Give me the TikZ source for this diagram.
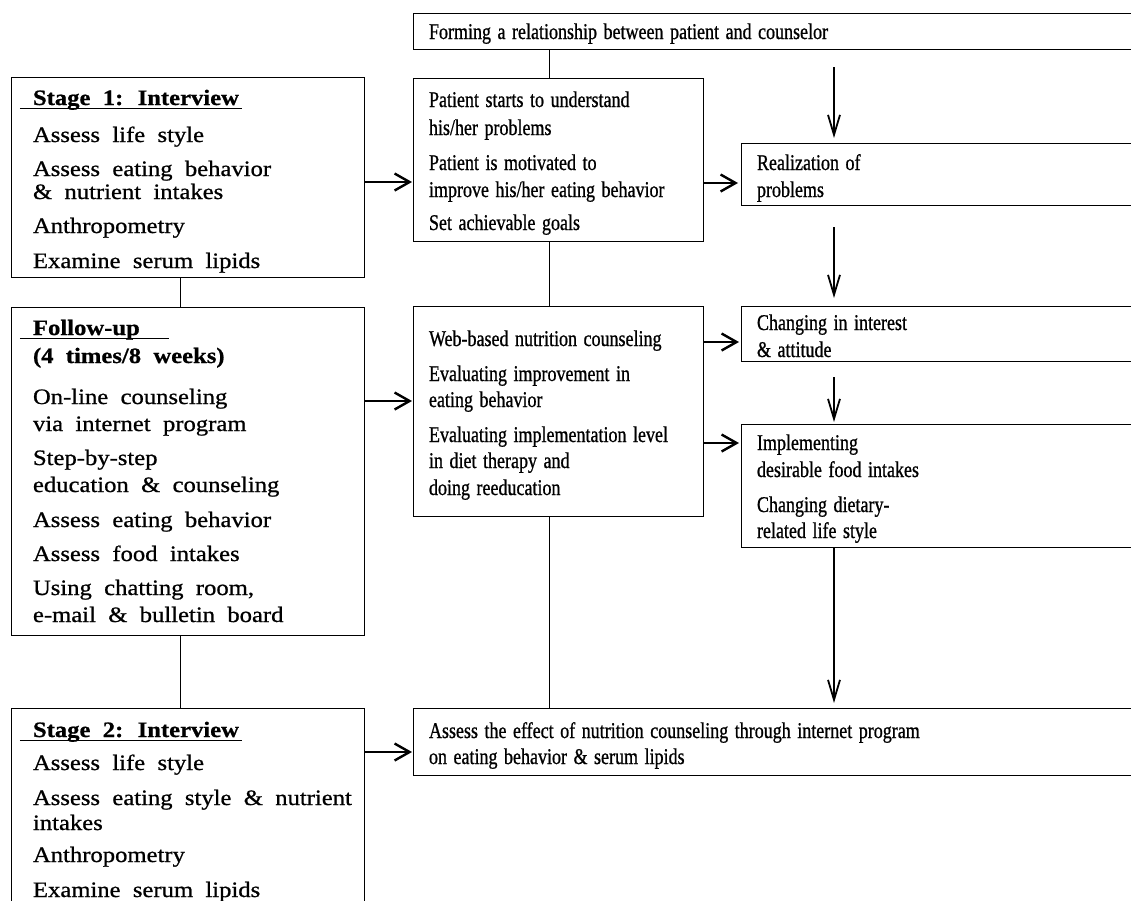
\documentclass[tikz,border=0pt]{standalone}
\usepackage{fontspec}
\setmainfont{Liberation Serif}
\newfontfamily\lfont[FakeStretch=1.12,WordSpace=2.0,FakeBold=0.8]{Liberation Serif}
\newfontfamily\mfont[FakeStretch=0.8,WordSpace=1.45,FakeBold=0.8]{Liberation Serif}
\usetikzlibrary{arrows.meta}
\newcommand\lsz{\lfont\fontsize{22}{0}\selectfont}
\newcommand\msz{\mfont\fontsize{22.5}{0}\selectfont}
\newcommand\bxt[5]{\parbox[t][#1][t]{#2}{#3\raggedright\leftskip=#4\relax\lineskiplimit=-100pt\lineskip=0pt\relax #5}}
\newcommand\fl[1]{\vspace*{\dimexpr#1-20pt\relax}\rule{0pt}{20pt}}
\newcommand\ult[2]{\makebox[0pt][l]{\hspace{-13pt}\rule[-3.5pt]{#1}{0.9pt}}#2}
\tikzset{
  bx/.style={draw, line width=1pt, anchor=north west, inner sep=0pt, outer sep=0pt},
  harr/.style={line width=2.4pt, -{Straight Barb[length=15pt,width=17pt]}},
  varr/.style={line width=1.8pt, -{Straight Barb[length=20pt,width=12pt]}},
  conn/.style={line width=1pt}
}
\begin{document}
\begin{tikzpicture}[x=1pt,y=-1pt]
\fill[white] (0,0) rectangle (1131,900);
\useasboundingbox (0,0) rectangle (1131,900);

% left column
\node[bx] (s1) at (11,77) {\bxt{200pt}{353pt}{\lsz}{22pt}{\fl{28pt}{\bfseries\ult{222pt}{Stage 1: Interview}}\\[37pt]Assess life style\\[34pt]Assess eating behavior\\[23pt]\& nutrient intakes\\[34pt]Anthropometry\\[35pt]Examine serum lipids}};
\node[bx] (fu) at (11,307) {\bxt{328pt}{353pt}{\lsz}{22pt}{\fl{28pt}{\bfseries\ult{149pt}{Follow-up}}\\[28pt]{\bfseries(4 times/8 weeks)}\\[41pt]On-line counseling\\[27pt]via internet program\\[34pt]Step-by-step\\[27pt]education \& counseling\\[35pt]Assess eating behavior\\[34pt]Assess food intakes\\[34pt]Using chatting room,\\[27pt]e-mail \& bulletin board}};
\node[bx] (s2) at (11,708) {\bxt{200pt}{353pt}{\lsz}{22pt}{\fl{29pt}{\bfseries\ult{222pt}{Stage 2: Interview}}\\[33pt]Assess life style\\[35pt]Assess eating style \& nutrient\\[25pt]intakes\\[32pt]Anthropometry\\[35pt]Examine serum lipids}};

% middle column
\node[bx] (form) at (413,13) {\bxt{36pt}{727pt}{\msz}{16pt}{\fl{26pt}Forming a relationship between patient and counselor}};
\node[bx] (pat) at (413,78) {\bxt{163pt}{290pt}{\msz}{16pt}{\fl{29pt}Patient starts to understand\\[28pt]his/her problems\\[35pt]Patient is motivated to\\[27pt]improve his/her eating behavior\\[33pt]Set achievable goals}};
\node[bx] (web) at (413,306) {\bxt{210pt}{290pt}{\msz}{16pt}{\fl{40pt}Web-based nutrition counseling\\[35pt]Evaluating improvement in\\[26pt]eating behavior\\[35pt]Evaluating implementation level\\[26pt]in diet therapy and\\[27pt]doing reeducation}};
\node[bx] (asse) at (413,708) {\bxt{67pt}{727pt}{\msz}{16pt}{\fl{30pt}Assess the effect of nutrition counseling through internet program\\[26pt]on eating behavior \& serum lipids}};

% right column
\node[bx] (real) at (741,143) {\bxt{62pt}{399pt}{\msz}{16pt}{\fl{27pt}Realization of\\[27pt]problems}};
\node[bx] (chg) at (741,306) {\bxt{55pt}{399pt}{\msz}{16pt}{\fl{24pt}Changing in interest\\[27pt]\& attitude}};
\node[bx] (impl) at (741,424) {\bxt{123pt}{399pt}{\msz}{16pt}{\fl{26pt}Implementing\\[27pt]desirable food intakes\\[35pt]Changing dietary-\\[26pt]related life style}};

% helper coordinates
\coordinate (xl) at (180,0);
\coordinate (xm) at (549,0);
\coordinate (c1) at (834,67);
\coordinate (h1) at (0,182);
\coordinate (h2) at (0,183);
\coordinate (h3) at (0,401);
\coordinate (h4) at (0,342);
\coordinate (h5) at (0,443);
\coordinate (h6) at (0,752);

% plain connectors
\draw[conn] (s1.south -| xl) -- (fu.north -| xl);
\draw[conn] (fu.south -| xl) -- (s2.north -| xl);
\draw[conn] (form.south -| xm) -- (pat.north -| xm);
\draw[conn] (pat.south -| xm) -- (web.north -| xm);
\draw[conn] (web.south -| xm) -- (asse.north -| xm);

% horizontal arrows
\draw[harr, shorten >=1pt] (s1.east |- h1) -- (pat.west |- h1);
\draw[harr, shorten >=3pt] (pat.east |- h2) -- (real.west |- h2);
\draw[harr, shorten >=1pt] (fu.east |- h3) -- (web.west |- h3);
\draw[harr, shorten >=2pt] (web.east |- h4) -- (chg.west |- h4);
\draw[harr, shorten >=2pt] (web.east |- h5) -- (impl.west |- h5);
\draw[harr, shorten >=1pt] (s2.east |- h6) -- (asse.west |- h6);

% vertical arrows
\draw[varr, shorten >=5pt] (c1) -- (c1 |- real.north);
\draw[varr, shorten <=22pt, shorten >=8pt] (real.south -| c1) -- (chg.north -| c1);
\draw[varr, shorten <=16pt, shorten >=2pt] (chg.south -| c1) -- (impl.north -| c1);
\draw[varr, shorten >=5pt] (impl.south -| c1) -- (asse.north -| c1);
\end{tikzpicture}
\end{document}
